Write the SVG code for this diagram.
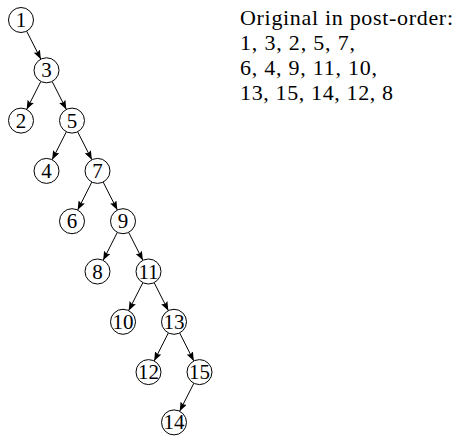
<svg xmlns="http://www.w3.org/2000/svg" width="460" height="437" viewBox="0 0 460 437">
<defs>
<marker id="arr" markerUnits="userSpaceOnUse" viewBox="0 0 9 7" refX="9" refY="3.5" markerWidth="9" markerHeight="7" orient="auto">
<path d="M0,0 L9,3.5 L0,7 L1.5,3.5 z" fill="#000"/>
</marker>
<style>
.n circle{fill:#fff;stroke:#000;stroke-width:1}
.n text{font-family:"Liberation Serif","Times New Roman",serif;font-size:21px;text-anchor:middle;fill:#000}
.e line{stroke:#000;stroke-width:1;marker-end:url(#arr)}
.t{font-family:"Liberation Serif","Times New Roman",serif;font-size:22px;fill:#000}
</style>
</defs>
<rect width="460" height="437" fill="#fff"/>
<g id="edges" class="e">
<line x1="26.65" y1="31.15" x2="40.85" y2="59.15"/>
<line x1="40.85" y1="81.45" x2="26.65" y2="109.45"/>
<line x1="52.15" y1="81.45" x2="66.35" y2="109.45"/>
<line x1="66.35" y1="131.75" x2="52.15" y2="159.75"/>
<line x1="77.65" y1="131.75" x2="91.85" y2="159.75"/>
<line x1="91.85" y1="182.05" x2="77.65" y2="210.05"/>
<line x1="103.15" y1="182.05" x2="117.35" y2="210.05"/>
<line x1="117.35" y1="232.35" x2="103.15" y2="260.35"/>
<line x1="128.65" y1="232.35" x2="142.85" y2="260.35"/>
<line x1="142.85" y1="282.65" x2="128.65" y2="310.65"/>
<line x1="154.15" y1="282.65" x2="168.35" y2="310.65"/>
<line x1="168.35" y1="332.95" x2="154.15" y2="360.95"/>
<line x1="179.65" y1="332.95" x2="193.85" y2="360.95"/>
<line x1="193.85" y1="383.25" x2="179.65" y2="411.25"/>
</g>
<g id="n1" class="n"><circle cx="21" cy="20" r="12.5"/><text x="21" y="27">1</text></g>
<g id="n3" class="n"><circle cx="46.5" cy="70.3" r="12.5"/><text x="46.5" y="77.3">3</text></g>
<g id="n2" class="n"><circle cx="21" cy="120.6" r="12.5"/><text x="21" y="127.6">2</text></g>
<g id="n5" class="n"><circle cx="72" cy="120.6" r="12.5"/><text x="72" y="127.6">5</text></g>
<g id="n4" class="n"><circle cx="46.5" cy="170.9" r="12.5"/><text x="46.5" y="177.9">4</text></g>
<g id="n7" class="n"><circle cx="97.5" cy="170.9" r="12.5"/><text x="97.5" y="177.9">7</text></g>
<g id="n6" class="n"><circle cx="72" cy="221.2" r="12.5"/><text x="72" y="228.2">6</text></g>
<g id="n9" class="n"><circle cx="123" cy="221.2" r="12.5"/><text x="123" y="228.2">9</text></g>
<g id="n8" class="n"><circle cx="97.5" cy="271.5" r="12.5"/><text x="97.5" y="278.5">8</text></g>
<g id="n11" class="n"><circle cx="148.5" cy="271.5" r="12.5"/><text x="148.5" y="278.5">11</text></g>
<g id="n10" class="n"><circle cx="123" cy="321.8" r="12.5"/><text x="123" y="328.8">10</text></g>
<g id="n13" class="n"><circle cx="174" cy="321.8" r="12.5"/><text x="174" y="328.8">13</text></g>
<g id="n12" class="n"><circle cx="148.5" cy="372.1" r="12.5"/><text x="148.5" y="379.1">12</text></g>
<g id="n15" class="n"><circle cx="199.5" cy="372.1" r="12.5"/><text x="199.5" y="379.1">15</text></g>
<g id="n14" class="n"><circle cx="174" cy="422.4" r="12.5"/><text x="174" y="429.4">14</text></g>
<g id="caption">
<text class="t" x="240" y="25" textLength="213" lengthAdjust="spacing">Original in post-order:</text>
<text class="t" x="240" y="50" textLength="115" lengthAdjust="spacing">1, 3, 2, 5, 7,</text>
<text class="t" x="240" y="75" textLength="137" lengthAdjust="spacing">6, 4, 9, 11, 10,</text>
<text class="t" x="240" y="100" textLength="153" lengthAdjust="spacing">13, 15, 14, 12, 8</text>
</g>
</svg>
